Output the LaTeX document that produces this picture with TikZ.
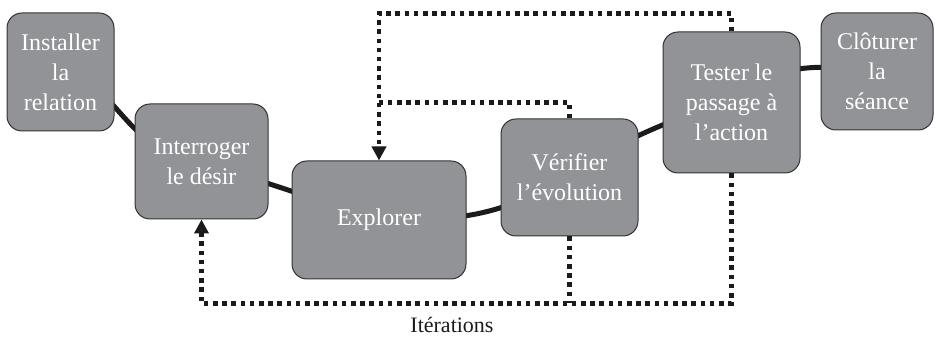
\documentclass[tikz,border=0pt]{standalone}
\usepackage{fontspec}
\setmainfont{Liberation Serif}
\usetikzlibrary{arrows.meta,backgrounds}
\definecolor{boxgray}{RGB}{146,147,151}
\definecolor{boxline}{RGB}{50,50,52}
\definecolor{ink}{RGB}{28,26,27}
\begin{document}
\begin{tikzpicture}[x=1pt,y=1pt,
  stage/.style={draw=boxline, line width=1pt, fill=boxgray, rounded corners=15pt,
    text=white, align=center, inner sep=0pt, font=\fontsize{24}{30}\selectfont},
  link/.style={line width=5pt, draw=ink},
  iter/.style={line width=4.5pt, dash pattern=on 4.5pt off 4.7pt, draw=ink},
  tip/.style={-{Triangle[width=14pt,length=14pt,fill=ink]}}]
\useasboundingbox (0,0) rectangle (935,-344);

% the six stages of the session
\node[stage, minimum width=107pt, minimum height=118pt] (n1) at (60.5,-72) {Installer\\la\\relation};
\node[stage, minimum width=133pt, minimum height=115pt] (n2) at (201.5,-161.5) {Interroger\\le désir};
\node[stage, minimum width=174pt, minimum height=118pt] (n3) at (379,-220) {Explorer};
\node[stage, minimum width=137pt, minimum height=117pt] (n4) at (569.5,-177.5) {Vérifier\\l’évolution};
\node[stage, minimum width=137pt, minimum height=141pt] (n5) at (731.5,-102.5) {Tester le\\passage à\\l’action};
\node[stage, minimum width=112pt, minimum height=117pt] (n6) at (877,-71.5) {Clôturer\\la\\séance};

% main thread linking the stages, behind the boxes
\begin{scope}[on background layer]
  \draw[link] (n1.center) .. controls +(50,0) and +(-70,0) .. (n2.center);
  \draw[link] (n2.center) -- (n3.center);
  \draw[link] (n3.center) .. controls +(110,-2) and +(-60,-28) .. (n4.center);
  \draw[link] (n4.center) .. controls +(25,25) and +(-50,-10) .. (n5.center);
  \draw[link] (n5.center) .. controls +(40,45) and +(-40,5) .. (n6.center);
\end{scope}

% iteration loops
\draw[iter, tip] (n5.north) -- ++(0,18) -| (n3.north);
\draw[iter] (n4.north) |- ([yshift=58pt]n3.north);
\draw[iter, tip] (n5.south) -- ++(0,-130) -| (n2.south);
\draw[iter] (n4.south) -- ++(0,-67);

\node[font=\fontsize{22}{26}\selectfont, anchor=base, text=ink] (lbl) at (452,-333) {Itérations};
\end{tikzpicture}
\end{document}
